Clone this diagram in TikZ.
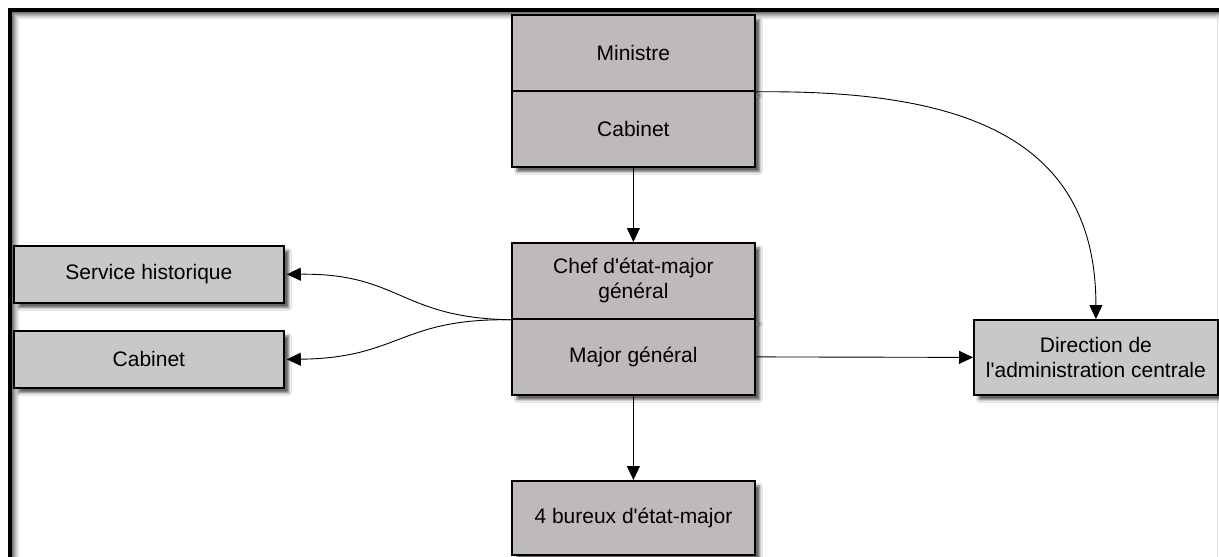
\documentclass[tikz,border=0pt]{standalone}
\usepackage{fontspec}
\setmainfont{Liberation Sans}
\usetikzlibrary{arrows.meta,shadows.blur}
\definecolor{boxmain}{RGB}{191,186,186}
\definecolor{boxside}{RGB}{201,200,200}
\tikzset{
  orgbox/.style={draw=black, line width=1.8pt, fill=boxmain, inner sep=0pt, align=center,
    anchor=north west, font=\fontsize{21}{25}\selectfont,
    blur shadow={shadow xshift=5pt, shadow yshift=-5pt, shadow blur steps=6, shadow opacity=60}},
  sidebox/.style={orgbox, fill=boxside},
  conn/.style={line width=0.9pt, -{Triangle[length=14pt,width=13pt]}},
}
\begin{document}
\begin{tikzpicture}[x=1pt,y=-1pt]
\useasboundingbox (0,0) rectangle (1219,557);
\fill[white] (0,0) rectangle (1219,557);
% frame inner shadow
\foreach \i/\g in {0/55,1/45,2/36,3/28,4/20,5/13,6/8,7/4}{
  \draw[black!\g, line width=1pt] (12.5+\i,557) -- (12.5+\i,12.5+\i) -- (1219,12.5+\i);
}
\draw[black!12, line width=1pt] (1217.5,14) -- (1217.5,557);
\draw[black, line width=4pt] (10,557) -- (10,10) -- (1219,10);
% nodes
\node[orgbox, minimum width=243pt, minimum height=76pt] (min) at (511,14) {Ministre};
\node[orgbox, minimum width=243pt, minimum height=76pt] (cab) at (511,90) {Cabinet};
\node[orgbox, minimum width=243pt, minimum height=76pt] (chef) at (511,242) {Chef d\textquotesingle état-major\\général};
\node[orgbox, minimum width=243pt, minimum height=74pt] (bur) at (511,480) {4 bureux d\textquotesingle état-major};
\node[orgbox, minimum width=243pt, minimum height=76pt] (maj) at (511,318) {Major général};
\node[sidebox, minimum width=270pt, minimum height=57pt] (serv) at (13,245) {Service historique};
\node[sidebox, minimum width=270pt, minimum height=57pt] (cab2) at (13,330) {Cabinet};
\node[sidebox, minimum width=244pt, minimum height=75pt] (dir) at (973,319) {Direction de\\l\textquotesingle administration centrale};
% connectors
\draw[conn] (cab.south) -- (chef.north);
\draw[conn] (maj.south) -- (bur.north);
\draw[conn] (maj.east) -- (dir.west);
\draw[conn] (min.south east) .. controls (950,90) and (1096,130) .. (dir.north);
\draw[conn, shorten >=2pt] (chef.south west) .. controls (400,318) and (400,273) .. (serv.east);
\draw[conn, shorten >=2pt] (chef.south west) .. controls (400,318) and (400,358) .. (cab2.east);
\end{tikzpicture}
\end{document}
